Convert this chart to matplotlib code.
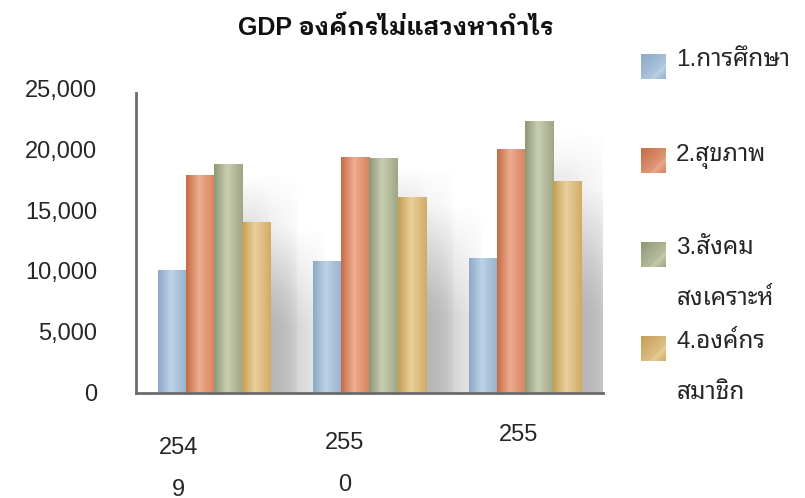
import numpy as np
import matplotlib
matplotlib.use("Agg")
import matplotlib.pyplot as plt
from matplotlib.colors import to_rgb

plt.rcParams['font.family'] = ['Liberation Sans', 'Noto Sans Thai Looped', 'DejaVu Sans']

title = "GDP องค์กรไม่แสวงหากำไร"
years = ["254\n9", "255\n0", "255"]
series = ["1.การศึกษา", "2.สุขภาพ", "3.สังคม\nสงเคราะห์", "4.องค์กร\nสมาชิก"]
education = [10100, 10800, 11100]
health = [17900, 19400, 20050]
social = [18800, 19300, 22300]
member = [14050, 16050, 17400]
yticks = [0, 5000, 10000, 15000, 20000, 25000]
ytick_labels = ["0", "5,000", "10,000", "15,000", "20,000", "25,000"]

values = [education, health, social, member]
# (edge, light middle, right edge) per series
shades = [("#8ea9c6", "#bcd3e8", "#98b1cb"),
          ("#c46c45", "#eeac90", "#d6845c"),
          ("#8e9875", "#c9ceb2", "#9ea684"),
          ("#c49e55", "#ead09c", "#d3ab66")]
text_col = "#262626"
fs = 17


def h_gradient(c0, c1, c2, n=64):
    t = np.linspace(0, 1, n)
    a, b, c = np.array(to_rgb(c0)), np.array(to_rgb(c1)), np.array(to_rgb(c2))
    out = np.zeros((1, n, 3))
    for i, v in enumerate(t):
        if v < 0.45:
            k = v / 0.45
            out[0, i] = a * (1 - k) + b * k
        else:
            k = (v - 0.45) / 0.55
            out[0, i] = b * (1 - k) + c * k
    return out


fig = plt.figure(figsize=(8.05, 4.98), dpi=100)
ax = fig.add_axes([0.169, 0.2118, 0.580, 0.6104])

x = np.arange(len(years))
w = 0.18
for s, vals in enumerate(values):
    bars = ax.bar(x + (s - 1.5) * w, vals, w, color="none", zorder=3)
    grad = h_gradient(*shades[s])
    for b in bars:
        x0, hgt = b.get_x(), b.get_height()
        ax.imshow(grad, extent=[x0, x0 + w, 0, hgt], aspect="auto", zorder=3, interpolation="bilinear")
        # soft shadow cast to the right
        ny, nx = 50, 50
        yy = np.linspace(1, 0, ny)[:, None]
        xx = np.linspace(0, 1, nx)[None, :]
        alpha = np.clip((1 - yy) / 0.6, 0, 1) * np.clip((1 - xx) / 0.6, 0, 1) ** 0.5 * 0.38
        sh = np.zeros((ny, nx, 4))
        sh[..., :3] = 0.5
        sh[..., 3] = alpha
        ax.imshow(sh, extent=[x0 + 0.5 * w, x0 + 3.0 * w, 0, hgt * 0.97], aspect="auto", zorder=2)

ax.set_xlim(-0.5, len(years) - 0.5)
ax.set_ylim(0, 25000)
ax.set_yticks(yticks)
ax.set_yticklabels(ytick_labels)
ax.set_xticks([])
ax.tick_params(axis="y", length=0, pad=28, labelsize=fs, labelcolor=text_col)
for sp in ["top", "right"]:
    ax.spines[sp].set_visible(False)
for sp in ["left", "bottom"]:
    ax.spines[sp].set_color("#6b6b6b")
    ax.spines[sp].set_linewidth(2)
    ax.spines[sp].set_zorder(4)
ax.spines["left"].set_bounds(0, 24600)

# category labels sit a little left of the groups and drift upwards
lab_dx = [-0.23, -0.157, -0.045]
lab_y = [-0.145, -0.13, -0.105]
for i, lab in enumerate(years):
    ax.text(x[i] + lab_dx[i], lab_y[i], lab, transform=ax.get_xaxis_transform(),
            ha="center", va="top", fontsize=fs, color=text_col, linespacing=2.18)

fig.text(0.492, 0.944, title, ha="center", va="center", fontsize=18, fontweight="bold",
         color="#111111", family=['Liberation Sans', 'IBM Plex Sans Thai Looped', 'DejaVu Sans'])

# legend drawn by hand: gradient swatch + wrapped label
leg_y = [66.5, 160.5, 254.5, 348.5]
for s, lab in enumerate(series):
    yc = leg_y[s]
    sw = fig.add_axes([641 / 805, 1 - (yc + 12.5) / 498, 25 / 805, 25 / 498])
    g = np.zeros((20, 20, 3))
    c0, c1, c2 = [np.array(to_rgb(c)) for c in shades[s]]
    for i in range(20):
        for j in range(20):
            v = (i + j) / 38
            g[i, j] = c0 * (1 - v) + c1 * v if v < 0.7 else c1 * (1 - (v - 0.7) / 0.3) + c2 * ((v - 0.7) / 0.3)
    sw.imshow(g, aspect="auto", interpolation="bilinear")
    sw.axis("off")
    fig.text(676 / 805, 1 - (yc - 17) / 498, lab, ha="left", va="top", fontsize=17.5,
             color=text_col, linespacing=2.7)

fig.savefig("out.png", dpi=100)
